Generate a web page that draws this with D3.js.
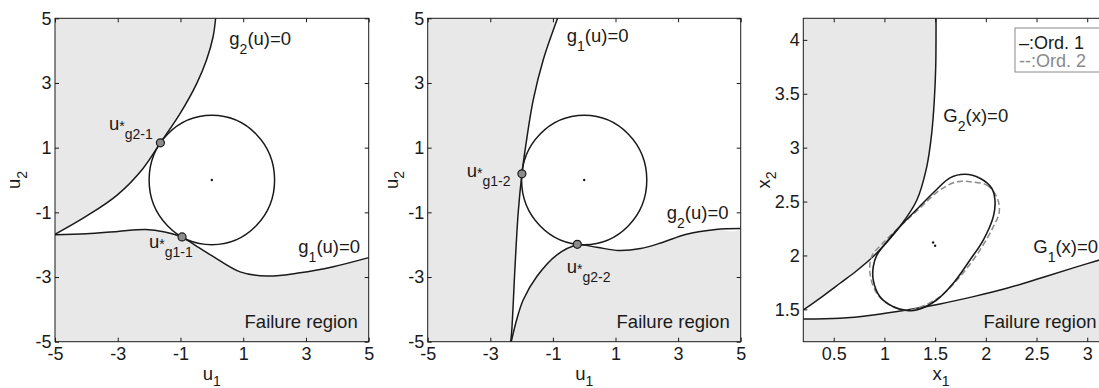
<!DOCTYPE html>
<html><head><meta charset="utf-8">
<script src="https://cdn.jsdelivr.net/npm/d3@7"></script>
<style>
body{margin:0;background:#fff;}
svg{display:block;font-family:"Liberation Sans",Arial,Helvetica,sans-serif;}
</style></head><body>
<svg id="chart" width="1099" height="388"></svg>
<script>
// ---------------- data ----------------
const ticksU = [-5, -3, -1, 1, 3, 5];
const ticksX1 = [0.5, 1, 1.5, 2, 2.5, 3];
const ticksX2 = [1.5, 2, 2.5, 3, 3.5, 4];
const betaCircle = [0, 0, 2]; // centre u1, centre u2, radius

// panel 1 (u-space, design point 1)
const p1G2 = [[-5,-1.68],[-4,-1.12],[-3,-0.45],[-2.2,0.35],[-1.64,1.15],[-1.01,2.06],[-0.48,2.99],[-0.17,3.71],[0.04,4.43],[0.12,5]];
const p1G1 = [[-5,-1.69],[-4,-1.66],[-3,-1.59],[-2.1,-1.53],[-1.5,-1.61],[-0.95,-1.77],[-0.4,-2.1],[0.05,-2.37],[0.9,-2.84],[1.75,-2.97],[2.81,-2.87],[3.87,-2.68],[5,-2.4]];
const p1Mpp = [[-1.64,1.15],[-0.95,-1.76]];

// panel 2 (u-space, design point 2)
const p2G1 = [[-0.85,5],[-1.31,3.71],[-1.63,2.47],[-1.84,1.24],[-1.99,0.19],[-2.11,-1.03],[-2.21,-2.68],[-2.32,-4.74],[-2.35,-5]];
const p2G2 = [[-2.33,-5],[-2.16,-4.33],[-1.95,-3.71],[-1.52,-2.99],[-0.88,-2.32],[-0.22,-2.01],[0.4,-2.08],[1.1,-2.18],[1.8,-2.12],[2.5,-1.93],[3.27,-1.68],[4.2,-1.53],[5,-1.5]];
const p2Mpp = [[-1.99,0.19],[-0.22,-1.99]];

// panel 3 (x-space)
const p3G2 = [[0.2,1.494],[0.397,1.626],[0.562,1.742],[0.726,1.858],[0.89,1.99],[1.022,2.12],[1.154,2.27],[1.318,2.51],[1.417,2.82],[1.466,3.13],[1.492,3.44],[1.506,3.75],[1.509,4.2]];
const p3G1 = [[0.2,1.41],[0.562,1.417],[0.89,1.448],[1.22,1.494],[1.548,1.55],[1.877,1.618],[2.206,1.695],[2.534,1.788],[2.863,1.885],[3.2,1.98]];
const ord1 = [[1.794,2.753],[1.942,2.716],[2.058,2.623],[2.09,2.514],[2.074,2.36],[1.975,2.143],[1.844,1.958],[1.679,1.742],[1.515,1.587],[1.318,1.494],[1.22,1.49],[1.088,1.525],[0.956,1.618],[0.89,1.772],[0.89,1.896],[0.924,2.0],[1.0,2.1],[1.154,2.27],[1.318,2.426],[1.515,2.612],[1.647,2.72]];
const ord2 = [[1.844,2.684],[2.009,2.653],[2.107,2.545],[2.133,2.406],[2.074,2.266],[1.942,2.05],[1.745,1.803],[1.548,1.618],[1.318,1.509],[1.22,1.494],[1.071,1.531],[0.924,1.649],[0.858,1.835],[0.874,1.99],[0.97,2.1],[1.154,2.27],[1.351,2.44],[1.548,2.607],[1.713,2.684]];
const ordCentres = [[1.48,2.12],[1.5,2.09]];
const legendLabels = ["\u2013:Ord. 1", "--:Ord. 2"];

// ---------------- drawing ----------------
const svg = d3.select("#chart");
const TOP = 18.3, BOTTOM = 341.7;
const INK = "#1a1a1a", GRAYFILL = "#e8e8e8";
const FS = 18.5, FSS = 14;

function richText(sel, x, y, parts, extra) {
  const t = sel.append("text").attr("x", x).attr("y", y).attr("fill", INK).attr("font-size", FS);
  if (extra) extra(t);
  let cur = 0;
  parts.forEach(p => {
    const off = p.off || 0;
    const ts = t.append("tspan").attr("dy", off - cur).attr("font-size", p.fs || FS).text(p.t);
    if (p.dx) ts.attr("dx", p.dx);
    cur = off;
  });
  return t;
}

function panel(cfg, idx) {
  const x = d3.scaleLinear().domain(cfg.xd).range([cfg.left, cfg.right]);
  const y = d3.scaleLinear().domain(cfg.yd).range([BOTTOM, TOP]);
  const g = svg.append("g");
  const clipId = "clip" + idx;
  g.append("clipPath").attr("id", clipId).append("rect")
    .attr("x", cfg.left).attr("y", TOP).attr("width", cfg.right - cfg.left).attr("height", BOTTOM - TOP);
  const body = g.append("g").attr("clip-path", `url(#${clipId})`);
  body.append("rect").attr("x", cfg.left).attr("y", TOP).attr("width", cfg.right - cfg.left)
    .attr("height", BOTTOM - TOP).attr("fill", GRAYFILL);
  const line = d3.line().x(d => x(d[0])).y(d => y(d[1])).curve(d3.curveCatmullRom.alpha(0.5));
  const lineClosed = d3.line().x(d => x(d[0])).y(d => y(d[1])).curve(d3.curveCatmullRomClosed.alpha(0.5));
  // safe region (white)
  const A = cfg.safeA, B = cfg.safeB;
  let d = line(A);
  cfg.corners.forEach(c => { d += "L" + x(c[0]) + "," + y(c[1]); });
  d += line(B).replace(/^M/, "L") + "Z";
  body.append("path").attr("d", d).attr("fill", "#fff");
  // limit-state curves
  cfg.curves.forEach(c => {
    body.append("path").attr("d", line(c)).attr("fill", "none").attr("stroke", INK).attr("stroke-width", 1.5);
  });
  if (cfg.circle) {
    const [cx, cy, r] = cfg.circle;
    body.append("ellipse").attr("cx", x(cx)).attr("cy", y(cy))
      .attr("rx", x(cx + r) - x(cx)).attr("ry", y(cy) - y(cy + r))
      .attr("fill", "none").attr("stroke", INK).attr("stroke-width", 1.5);
    body.append("circle").attr("cx", x(cx)).attr("cy", y(cy)).attr("r", 1.2).attr("fill", INK);
  }
  if (cfg.loops) {
    body.append("path").attr("d", lineClosed(cfg.loops[1])).attr("fill", "none")
      .attr("stroke", "#8a8a8a").attr("stroke-width", 1.5).attr("stroke-dasharray", "6,3");
    body.append("path").attr("d", lineClosed(cfg.loops[0])).attr("fill", "none")
      .attr("stroke", INK).attr("stroke-width", 1.6);
    cfg.centres.forEach(c => body.append("circle").attr("cx", x(c[0])).attr("cy", y(c[1])).attr("r", 1.2).attr("fill", INK));
  }
  if (cfg.mpp) {
    body.selectAll("circle.mpp").data(cfg.mpp).enter().append("circle").attr("class", "mpp")
      .attr("cx", d => x(d[0])).attr("cy", d => y(d[1])).attr("r", 4)
      .attr("fill", "#8c8c8c").attr("stroke", INK).attr("stroke-width", 1.2);
  }
  // annotations
  cfg.notes.forEach(n => richText(body, x(n.at[0]), y(n.at[1]), n.parts));
  body.append("text").attr("x", cfg.right - 11).attr("y", BOTTOM - 13.5).attr("text-anchor", "end")
    .attr("font-size", FS).attr("fill", INK).text("Failure region");

  // axes (inward ticks on all four sides)
  const fmt = v => String(v);
  const axB = g.append("g").attr("transform", `translate(0,${BOTTOM})`)
    .call(d3.axisBottom(x).tickValues(cfg.xt).tickFormat(fmt).tickSizeInner(-4).tickSizeOuter(0).tickPadding(6));
  const axT = g.append("g").attr("transform", `translate(0,${TOP})`)
    .call(d3.axisTop(x).tickValues(cfg.xt).tickFormat("").tickSizeInner(-4).tickSizeOuter(0));
  const axL = g.append("g").attr("transform", `translate(${cfg.left},0)`)
    .call(d3.axisLeft(y).tickValues(cfg.yt).tickFormat(fmt).tickSizeInner(-4).tickSizeOuter(0).tickPadding(3.5));
  const axR = g.append("g").attr("transform", `translate(${cfg.right},0)`)
    .call(d3.axisRight(y).tickValues(cfg.yt).tickFormat("").tickSizeInner(-4).tickSizeOuter(0));
  [axB, axT, axL, axR].forEach(a => {
    a.select(".domain").remove();
    a.selectAll("line").attr("stroke", INK);
    a.selectAll("text").attr("font-size", 18).attr("fill", INK).attr("font-family", null);
    a.attr("font-family", null);
  });
  g.append("rect").attr("x", cfg.left).attr("y", TOP).attr("width", cfg.right - cfg.left)
    .attr("height", BOTTOM - TOP).attr("fill", "none").attr("stroke", INK).attr("stroke-width", 1);

  // axis titles
  richText(g, cfg.xlabX, 380, [{t: cfg.xlab}, {t: "1", off: 6, fs: FSS}], t => t.attr("text-anchor", "middle"));
  richText(g, 0, 0, [{t: cfg.xlab}, {t: "2", off: 6.5, fs: FSS}],
    t => t.attr("text-anchor", "middle").attr("transform", `translate(${cfg.ylabX},${(TOP + BOTTOM) / 2}) rotate(-90)`));
  return {x, y, g};
}

const sub = (s) => ({t: s, off: 9, fs: FSS});
panel({
  left: 55, right: 368.7, xd: [-5, 5], yd: [-5, 5], xt: ticksU, yt: ticksU,
  safeA: p1G2, corners: [[5, 5]], safeB: p1G1.slice().reverse(),
  curves: [p1G2, p1G1], circle: betaCircle, mpp: p1Mpp,
  notes: [
    {at: [0.556, 4.174], parts: [{t: "g"}, {t: "2", off: 9, fs: FSS}, {t: "(u)=0"}]},
    {at: [2.756, -2.257], parts: [{t: "g"}, {t: "1", off: 9, fs: FSS}, {t: "(u)=0"}]},
    {at: [-3.279, 1.531], parts: [{t: "u"}, {t: "*", off: 1, fs: FSS}, sub("g2-1")]},
    {at: [-2.004, -2.103], parts: [{t: "u"}, {t: "*", off: 1, fs: FSS}, sub("g1-1")]}
  ],
  xlab: "u", xlabX: 211.8, ylabX: 20
}, 0);

panel({
  left: 427.7, right: 740.7, xd: [-5, 5], yd: [-5, 5], xt: ticksU, yt: ticksU,
  safeA: p2G1, corners: [], safeB: p2G2.concat([[5, 5]]),
  curves: [p2G1, p2G2], circle: betaCircle, mpp: p2Mpp,
  notes: [
    {at: [-0.559, 4.267], parts: [{t: "g"}, {t: "1", off: 9, fs: FSS}, {t: "(u)=0"}]},
    {at: [2.636, -1.206], parts: [{t: "g"}, {t: "2", off: 9, fs: FSS}, {t: "(u)=0"}]},
    {at: [-3.754, 0.093], parts: [{t: "u"}, {t: "*", off: 1, fs: FSS}, sub("g1-2")]},
    {at: [-0.559, -2.876], parts: [{t: "u"}, {t: "*", off: 1, fs: FSS}, sub("g2-2")]}
  ],
  xlab: "u", xlabX: 584.2, ylabX: 397.5
}, 1);

panel({
  left: 803.3, right: 1107.5, xd: [0.2, 3.2], yd: [1.2, 4.2], xt: ticksX1, yt: ticksX2,
  safeA: p3G2, corners: [[3.2, 4.2]], safeB: p3G1.slice().reverse(),
  curves: [p3G2, p3G1], loops: [ord1, ord2], centres: ordCentres,
  notes: [
    {at: [1.581, 3.241], parts: [{t: "G"}, {t: "2", off: 9, fs: FSS}, {t: "(x)=0"}]},
    {at: [2.468, 2.02], parts: [{t: "G"}, {t: "1", off: 9, fs: FSS}, {t: "(x)=0"}]}
  ],
  xlab: "x", xlabX: 941, ylabX: 769.5
}, 2);

// legend
const lg = svg.append("g");
lg.append("rect").attr("x", 1015).attr("y", 28).attr("width", 100).attr("height", 44)
  .attr("fill", "#fff").attr("stroke", "#8a8a8a").attr("stroke-width", 1);
lg.selectAll("text").data(legendLabels).enter().append("text")
  .attr("x", 1019).attr("y", (d, i) => 48.5 + i * 18)
  .attr("font-size", 18).attr("fill", (d, i) => i === 0 ? INK : "#8a8a8a").text(d => d);
</script>
</body></html>
